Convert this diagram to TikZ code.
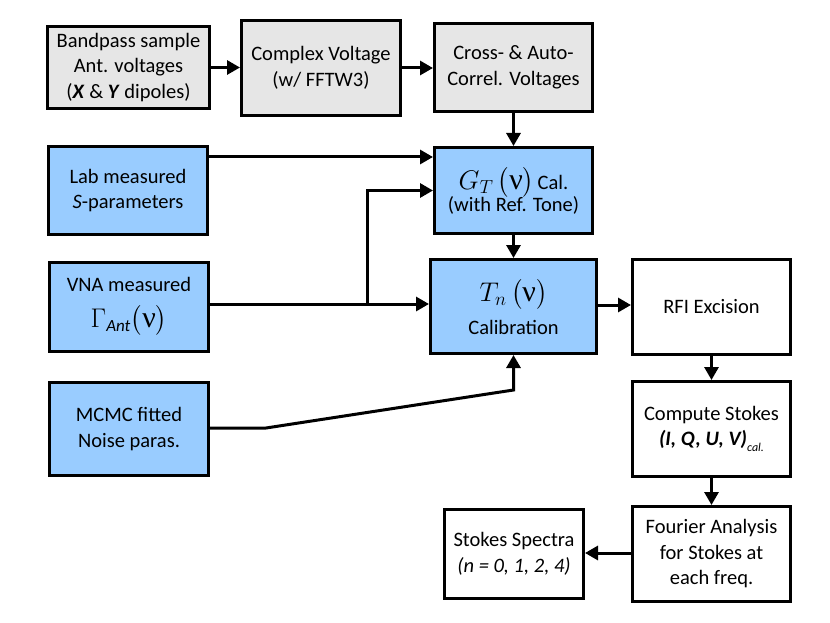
\documentclass[tikz,border=0pt]{standalone}
\usepackage{fix-cm}
\usepackage{amsmath}
\usepackage{fontspec}
\setmainfont{Carlito}
\newfontfamily\nufont{Liberation Serif}
\usetikzlibrary{arrows.meta}
\definecolor{grayfill}{HTML}{E6E6E6}
\definecolor{bluefill}{HTML}{99CCFF}
\newcommand{\mynu}{\mbox{\nufont\fontsize{30}{30}\selectfont ν}}
\newcommand{\mathsz}{\fontsize{27}{33}\selectfont}
\begin{document}
\begin{tikzpicture}[x=1pt,y=-1pt,
  box/.style={draw, line width=3pt, align=center, inner sep=0pt,
    font=\fontsize{20.5}{25.5}\selectfont},
  graybox/.style={box, fill=grayfill},
  bluebox/.style={box, fill=bluefill},
  whitebox/.style={box, fill=white},
  arr/.style={line width=3pt, -{Triangle[length=13pt,width=14pt]}}]
\useasboundingbox (0,0) rectangle (830,623);

\node[graybox, minimum width=162pt, minimum height=82pt] (bandpass) at (128.5,67.5)
  {Bandpass sample\\Ant. voltages\\(\textbf{\textit{X}} \& \textbf{\textit{Y}} dipoles)};
\node[graybox, minimum width=159pt, minimum height=95pt] (complex) at (321,68)
  {Complex Voltage\\(w/ FFTW3)};
\node[graybox, minimum width=158pt, minimum height=88pt] (cross) at (513.5,67.5)
  {Cross- \& Auto-\\Correl. Voltages};

\node[bluebox, minimum width=159pt, minimum height=88pt] (lab) at (128,190.5)
  {Lab measured\\\textit{S}-parameters};
\node[bluebox, minimum width=158pt, minimum height=86pt] (gt) at (513.5,190.5)
  {{\mathsz$G_T\,\bigl(\mynu\bigr)$}\,Cal.\\[-3pt](with Ref. Tone)};

\node[bluebox, minimum width=159pt, minimum height=89pt] (vna) at (129,307)
  {VNA measured\\[10pt]{\mathsz$\Gamma_{\mbox{\fontsize{17}{17}\selectfont\itshape Ant}}\bigl(\mynu\bigr)$}};
\node[bluebox, minimum width=166pt, minimum height=94pt] (tn) at (513.5,306.5)
  {{\mathsz$T_n\,\bigl(\mynu\bigr)$}\\[8pt]Calibration};
\node[whitebox, minimum width=158pt, minimum height=95pt] (rfi) at (711.5,307)
  {RFI Excision};

\node[bluebox, minimum width=159pt, minimum height=93pt] (mcmc) at (129,429)
  {MCMC fitted\\Noise paras.};
\node[whitebox, minimum width=158pt, minimum height=95pt] (compute) at (711.5,429)
  {Compute Stokes\\\textbf{\textit{(I, Q, U, V)}}\raisebox{-6pt}{\fontsize{12}{12}\selectfont\textit{cal.}}};

\node[whitebox, minimum width=139pt, minimum height=89pt] (spectra) at (514,554)
  {Stokes Spectra\\\textit{(n = 0, 1, 2, 4)}};
\node[whitebox, minimum width=158pt, minimum height=95pt] (fourier) at (711.5,554)
  {Fourier Analysis\\for Stokes at\\each freq.};

\coordinate (br) at (367,304);
\coordinate (k1) at (266,428);
\coordinate (k2) at (513.5,390);

\draw[arr] (bandpass.east) -- (bandpass.east -| complex.west);
\draw[arr] (complex.east) -- (complex.east -| cross.west);
\draw[arr] (cross.south) -- (gt.north);
\draw[arr] ([yshift=33.5pt]lab.east) -- ([yshift=33.5pt]gt.west);
\draw[arr] ([yshift=3pt]vna.east) -- ([yshift=3pt]vna.east -| tn.west);
\draw[arr] (br) |- (gt.west);
\draw[arr] ([yshift=1pt]mcmc.east) -- (k1) -- (k2) -- (tn.south);
\draw[arr] (gt.south) -- (tn.north);
\draw[arr] ([yshift=1.5pt]tn.east) -- ([yshift=1.5pt]tn.east -| rfi.west);
\draw[arr] (rfi.south) -- (compute.north);
\draw[arr] (compute.south) -- (fourier.north);
\draw[arr] ([yshift=1pt]fourier.west) -- ([yshift=1pt]fourier.west -| spectra.east);
\end{tikzpicture}
\end{document}
